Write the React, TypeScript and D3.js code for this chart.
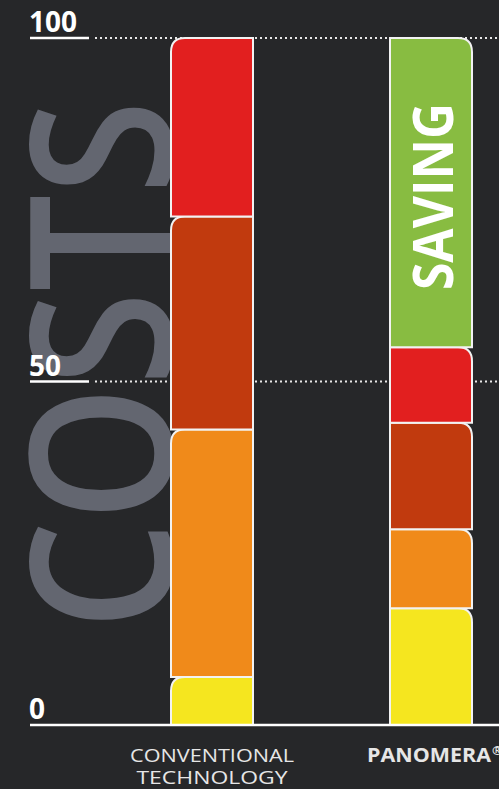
import React, { useEffect, useRef } from "react";
import * as d3 from "d3";

const categories = ["CONVENTIONAL TECHNOLOGY", "PANOMERA"];
const labelLines = [["CONVENTIONAL", "TECHNOLOGY"], ["PANOMERA"]];
const segmentKeys = ["yellow", "orange", "rust", "red", "saving"];
const yellowValues = [7, 17];
const orangeValues = [36, 11.5];
const rustValues = [31, 15.5];
const redValues = [26, 11];
const savingValues = [0, 45];
const yTicks = [0, 50, 100];

const colors: Record<string, string> = {
  yellow: "#f5e61f",
  orange: "#f08a1a",
  rust: "#c13a0e",
  red: "#e21f1f",
  saving: "#88bc41",
};

const App = () => {
  const ref = useRef<SVGSVGElement>(null);

  useEffect(() => {
    document.body.style.margin = "0";
    document.body.style.background = "#262729";
    const width = 499;
    const height = 789;
    const svg = d3.select(ref.current).attr("width", width).attr("height", height);
    svg.selectAll("*").remove();

    svg.append("rect").attr("width", width).attr("height", height).attr("fill", "#262729");

    const y = d3.scaleLinear().domain([0, 100]).range([725, 38]);
    const x = d3.scalePoint().domain(categories).range([212, 431]);
    const barW = 82;
    const r = 14;

    // big background word
    svg.append("text")
      .attr("transform", "translate(172,365) rotate(-90)")
      .attr("text-anchor", "middle")
      .attr("font-family", "Open Sans")
      .attr("font-weight", 650)
      .attr("font-size", 198)
      .attr("fill", "#636670")
      .attr("textLength", 530)
      .attr("lengthAdjust", "spacingAndGlyphs")
      .text("COSTS");

    // gridlines
    yTicks.filter(d => d > 0).forEach(d => {
      svg.append("line")
        .attr("x1", 95).attr("x2", width)
        .attr("y1", y(d)).attr("y2", y(d))
        .attr("stroke", "#e8e8e8")
        .attr("stroke-width", 2)
        .attr("stroke-dasharray", "2,3");
      svg.append("line")
        .attr("x1", 30).attr("x2", 89)
        .attr("y1", y(d)).attr("y2", y(d))
        .attr("stroke", "#ffffff")
        .attr("stroke-width", 2.5);
    });

    // stacked bars
    const rows = categories.map((c, i) => ({
      cat: c,
      yellow: yellowValues[i],
      orange: orangeValues[i],
      rust: rustValues[i],
      red: redValues[i],
      saving: savingValues[i],
    }));
    const stack = d3.stack<any>().keys(segmentKeys)(rows);

    const segPath = (x0: number, x1: number, top: number, bottom: number, leftRound: boolean) => {
      const rr = Math.min(r, bottom - top);
      if (leftRound) {
        return `M${x1},${top} L${x0 + rr},${top} Q${x0},${top} ${x0},${top + rr} L${x0},${bottom} L${x1},${bottom} Z`;
      }
      return `M${x0},${top} L${x1 - rr},${top} Q${x1},${top} ${x1},${top + rr} L${x1},${bottom} L${x0},${bottom} Z`;
    };

    stack.forEach(layer => {
      layer.forEach((d, i) => {
        if (d[1] - d[0] <= 0) return;
        const cx = x(categories[i]) as number;
        svg.append("path")
          .attr("d", segPath(cx - barW / 2, cx + barW / 2, y(d[1]), y(d[0]), i === 0))
          .attr("fill", colors[layer.key])
          .attr("stroke", "#f2f2f2")
          .attr("stroke-width", 2);
      });
    });

    // saving label
    const savingLayer = stack[stack.length - 1][1];
    svg.append("text")
      .attr("transform", `translate(453,${(y(savingLayer[0]) + y(savingLayer[1])) / 2 + 4}) rotate(-90)`)
      .attr("text-anchor", "middle")
      .attr("font-family", "Open Sans")
      .attr("font-weight", 700)
      .attr("font-size", 56)
      .attr("fill", "#ffffff")
      .attr("textLength", 187)
      .attr("lengthAdjust", "spacingAndGlyphs")
      .text("SAVING");

    // base line
    svg.append("line")
      .attr("x1", 30).attr("x2", width)
      .attr("y1", y(0)).attr("y2", y(0))
      .attr("stroke", "#ffffff")
      .attr("stroke-width", 2.5);

    // tick labels
    yTicks.forEach(d => {
      svg.append("text")
        .attr("x", 29)
        .attr("y", y(d) - 6)
        .attr("font-family", "Open Sans")
        .attr("font-weight", 700)
        .attr("font-size", 28)
        .attr("fill", "#ffffff")
        .text(d);
    });

    // category labels
    const lineLengths = [[164, 151], [124]];
    labelLines.forEach((lines, i) => {
      lines.forEach((line, j) => {
        svg.append("text")
          .attr("x", i === 0 ? (x(categories[i]) as number) : 367)
          .attr("y", 762 + j * 22)
          .attr("text-anchor", i === 0 ? "middle" : "start")
          .attr("font-family", "Open Sans")
          .attr("font-weight", i === 0 ? 400 : 700)
          .attr("font-size", 19)
          .attr("fill", "#e6e6e6")
          .attr("textLength", lineLengths[i][j])
          .attr("lengthAdjust", "spacingAndGlyphs")
          .text(line);
        if (i === 1) {
          svg.append("text")
            .attr("x", 367 + lineLengths[i][j] + 1)
            .attr("y", 755)
            .attr("font-family", "Open Sans")
            .attr("font-weight", 700)
            .attr("font-size", 13)
            .attr("fill", "#e6e6e6")
            .text("®");
        }
      });
    });
  }, []);

  return <svg ref={ref}></svg>;
};

export default App;
